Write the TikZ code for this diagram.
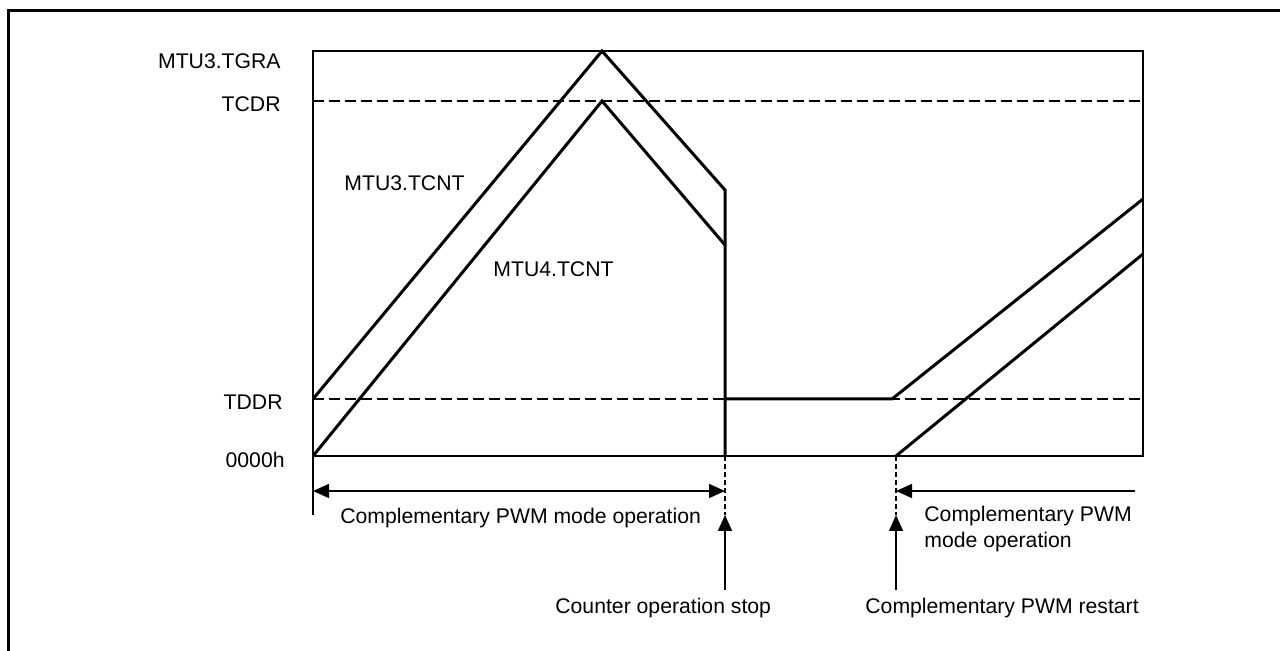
\documentclass[tikz,border=0pt]{standalone}
\usepackage{fontspec}
\setmainfont{Liberation Sans}
\usetikzlibrary{arrows.meta,positioning,calc}

\begin{document}
\begin{tikzpicture}[x=0.5pt,y=-0.5pt,>={Triangle[length=8pt,width=7pt]}, every node/.style={font=\fontsize{10.6}{13}\selectfont,inner sep=0pt}]
\tikzstyle{frame}=[line width=1.5pt]
\tikzstyle{axis}=[line width=0.8pt]
\tikzstyle{wave}=[line width=1.5pt,line join=miter]
\tikzstyle{level}=[line width=1.1pt,dash pattern=on 5.5pt off 2.5pt]
\tikzstyle{eventline}=[line width=0.6pt,dash pattern=on 2.5pt off 1.5pt]
\tikzstyle{dim}=[line width=0.75pt]
\useasboundingbox (0,0) rectangle (1280,651);
\draw[frame] (8,651) |- (1280,11);
\coordinate (o) at (313,456);
\coordinate (tr) at (1143,51);
\coordinate (stop) at (725,456);
\coordinate (restart) at (896,456);
\coordinate (stopA) at (725,515);
\coordinate (restartA) at (896,515);
\draw[axis] (o) |- (tr) |- (o) -- (313,515);
\draw[level] (313,101) -- (1143,101);
\draw[level] (313,399) -- (1143,399);
\node[anchor=base east] (tgra) at (281,69) {MTU3.TGRA};
\node[anchor=base east] (tcdr) at (281,112) {TCDR};
\node[anchor=base east] (tddr) at (283,410) {TDDR};
\node[anchor=base east] (zero) at (285,468) {0000h};
\draw[wave] (313,399) -- (602,51) -- (725,190) -- (stop);
\draw[wave] (o) -- (602,101) -- (725,245);
\draw[wave] (725,399) -- (892,399) -- (1143,199);
\draw[wave] (restart) -- (1143,254);
\node[anchor=base west] (tcnt3) at (344,191) {MTU3.TCNT};
\node[anchor=base west] (tcnt4) at (493,277) {MTU4.TCNT};
\draw[eventline] (stop) -- (stopA);
\draw[eventline] (restart) -- (restartA);
\draw[dim,<->] (313,491) -- (stop |- 0,491);
\draw[dim,->] (1135,491) -- (restart |- 0,491);
\draw[dim,->] (725,590) -- (stopA);
\draw[dim,->] (896,590) -- (restartA);
\node[anchor=base west] (mode) at (340,524) {Complementary PWM mode operation};
\node[anchor=base west] (stoptxt) at (555,614) {Counter operation stop};
\node[anchor=base west] (restarttxt) at (865,614) {Complementary PWM restart};
\node[anchor=base west,align=left] (mode2) at (924,548) {Complementary PWM\\mode operation};
\end{tikzpicture}
\end{document}
